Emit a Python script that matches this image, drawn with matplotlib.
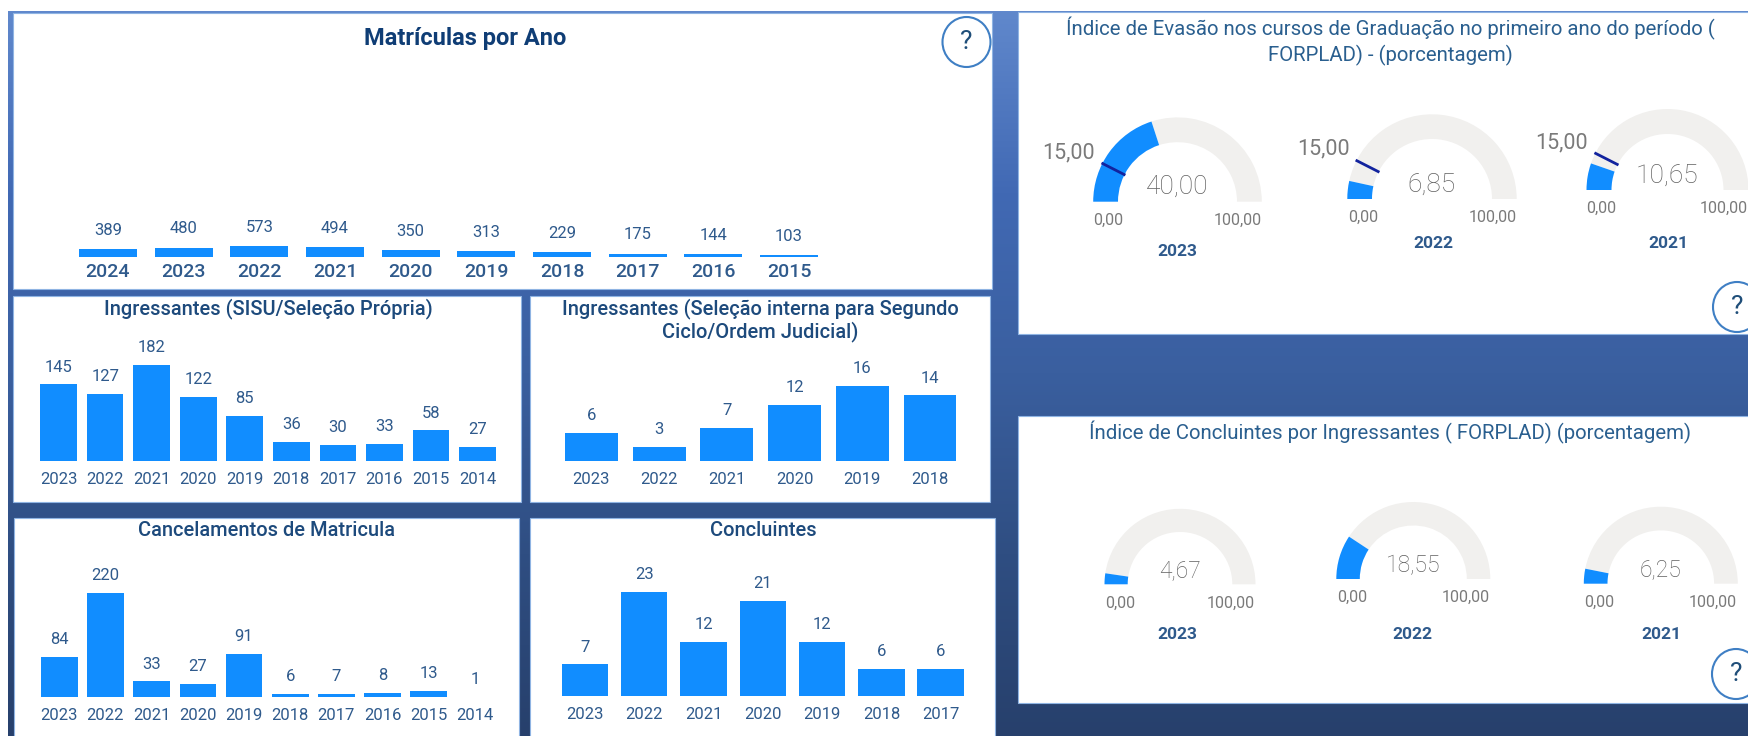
import numpy as np
import matplotlib
matplotlib.use('Agg')
import matplotlib.pyplot as plt
from matplotlib.patches import Wedge, Rectangle, Ellipse
from matplotlib.colors import LinearSegmentedColormap

W, H = 1749, 736

# data
mat_years = ['2024', '2023', '2022', '2021', '2020', '2019', '2018', '2017', '2016', '2015']
mat_values = [389, 480, 573, 494, 350, 313, 229, 175, 144, 103]
sisu_years = ['2023', '2022', '2021', '2020', '2019', '2018', '2017', '2016', '2015', '2014']
sisu_values = [145, 127, 182, 122, 85, 36, 30, 33, 58, 27]
interna_years = ['2023', '2022', '2021', '2020', '2019', '2018']
interna_values = [6, 3, 7, 12, 16, 14]
canc_years = ['2023', '2022', '2021', '2020', '2019', '2018', '2017', '2016', '2015', '2014']
canc_values = [84, 220, 33, 27, 91, 6, 7, 8, 13, 1]
conc_years = ['2023', '2022', '2021', '2020', '2019', '2018', '2017']
conc_values = [7, 23, 12, 21, 12, 6, 6]

gauge_years = ['2023', '2022', '2021']
evasao_values = [40.00, 6.85, 10.65]
evasao_target = 15.00
conc_ind_values = [4.67, 18.55, 6.25]
gauge_max = 100.00

BLUE = '#118DFF'
TRACK = '#F1F0EE'
NAVY = '#12239E'
GREY = '#7A7A7A'
TXT = '#2F5A8C'
TITLE = '#1D4A7C'

plt.rcParams['font.family'] = ['Roboto', 'DejaVu Sans']

fig = plt.figure(figsize=(W / 100, H / 100), dpi=100, facecolor='white')

# page layer, in pixels (y flipped through Y())
pg = fig.add_axes([0, 0, 1, 1])
pg.set_xlim(0, W)
pg.set_ylim(0, H)
pg.axis('off')


def Y(py):
    return H - py


def br(n):
    return ('%.2f' % n).replace('.', ',')


cmap = LinearSegmentedColormap.from_list('bg', ['#6088CC', '#4169B4', '#3A5F9F', '#2F4E82', '#27406C'])
grad = np.linspace(0, 1, 256).reshape(-1, 1)
pg.imshow(grad, extent=[8, W, Y(736), Y(11)], cmap=cmap, aspect='auto', zorder=0)
pg.set_xlim(0, W)
pg.set_ylim(0, H)


def panel(x0, y0, x1, y1):
    pg.add_patch(Rectangle((x0, Y(y1)), x1 - x0, y1 - y0, fc='white', ec='#8FB4E3', lw=0.8, zorder=1))


panel(13, 13, 992, 289)
panel(13, 296, 521, 502)
panel(530, 296, 990, 502)
panel(14, 518, 519, 740)
panel(530, 518, 995, 740)
panel(1018, 12, 1755, 334)
panel(1018, 416, 1755, 703)


def label(x, y, s, size, color=TXT, weight='normal'):
    pg.text(x, Y(y), s, fontsize=size, color=color, fontweight=weight, ha='center', va='center', zorder=6)


def bars(years, values, first, last, width, top, bottom, ymax, tick_size=12, tick_w='normal', tick_pad=8, val_pad=7):
    n = len(values)
    pitch = (last - first) / (n - 1)
    x0 = first - pitch / 2
    x1 = last + pitch / 2
    ax = fig.add_axes([x0 / W, (H - bottom) / H, (x1 - x0) / W, (bottom - top) / H])
    ax.patch.set_alpha(0)
    b = ax.bar(range(n), values, width=width / pitch, color=BLUE)
    ax.set_xlim(-0.5, n - 0.5)
    ax.set_ylim(0, ymax)
    ax.set_xticks(range(n))
    ax.set_xticklabels(years, fontsize=tick_size, color=TXT, fontweight=tick_w)
    ax.tick_params(axis='x', length=0, pad=tick_pad)
    ax.set_yticks([])
    for s in ax.spines.values():
        s.set_visible(False)
    ax.bar_label(b, padding=val_pad, fontsize=12, color=TXT)


bars(mat_years, mat_values, 108, 789, 58, 70, 257, 9490, tick_size=14, tick_w='medium', tick_pad=4, val_pad=8)
bars(sisu_years, sisu_values, 58.6, 477.5, 36.7, 330, 461, 248)
bars(interna_years, interna_values, 591.5, 930, 52.8, 345, 461, 24.7)
bars(canc_years, canc_values, 59.3, 475, 36.7, 550, 697, 310)
bars(conc_years, conc_values, 585, 940.7, 46.4, 550, 696.3, 32.2)

label(465, 38, 'Matrículas por Ano', 17, '#0F3D75', 'bold')
label(268, 309, 'Ingressantes (SISU/Seleção Própria)', 14.4, TITLE, 'medium')
label(760, 309, 'Ingressantes (Seleção interna para Segundo', 14.4, TITLE, 'medium')
label(760, 332, 'Ciclo/Ordem Judicial)', 14.4, TITLE, 'medium')
label(267, 531, 'Cancelamentos de Matricula', 14.4, TITLE, 'medium')
label(763.5, 531, 'Concluintes', 14.4, TITLE, 'medium')
label(1390, 28, 'Índice de Evasão nos cursos de Graduação no primeiro ano do período (', 14.7, '#2A5F8F')
label(1390, 55, 'FORPLAD) - (porcentagem)', 14.7, '#2A5F8F')
label(1390, 432, 'Índice de Concluintes por Ingressantes ( FORPLAD) (porcentagem)', 14.7, '#2A5F8F')


def gauge(cx, base, r, rin, value, year, val_y, min_x, max_x, lab_y, year_x, year_y, val_size=19, target=None, target_x=None, target_y=None):
    w = r - rin
    ang = 180 * (1 - value / gauge_max)
    pg.add_patch(Wedge((cx, Y(base)), r, 0, ang, width=w, fc=TRACK, ec='none', zorder=2))
    pg.add_patch(Wedge((cx, Y(base)), r, ang, 180, width=w, fc=BLUE, ec='none', zorder=3))
    if target is not None:
        a = np.pi * (1 - target / gauge_max)
        pg.plot([cx + (rin - 1) * np.cos(a), cx + (r + 1) * np.cos(a)],
                [Y(base) + (rin - 1) * np.sin(a), Y(base) + (r + 1) * np.sin(a)], color=NAVY, lw=2, zorder=4, solid_capstyle='butt')
        label(target_x, target_y, br(target), 15.5, GREY)
    label(cx, val_y, br(value), val_size, '#606060', 'light')
    label(min_x, lab_y, br(0), 11.5, GREY)
    label(max_x, lab_y, br(gauge_max), 11.5, GREY)
    label(year_x, year_y, year, 12.5, TXT, 'bold')


gauge(1177.5, 201.7, 84.3, 59.5, evasao_values[0], gauge_years[0], 186.7, 1108.6, 1238, 220, 1177, 251.7, target=evasao_target, target_x=1069, target_y=152.7)
gauge(1432, 199, 84.7, 60, evasao_values[1], gauge_years[1], 184.3, 1362.8, 1492.6, 217, 1433, 243.7, target=evasao_target, target_x=1324, target_y=149)
gauge(1667.5, 190, 81, 56, evasao_values[2], gauge_years[2], 175.7, 1601.5, 1724, 208, 1668, 243.7, target=evasao_target, target_x=1562, target_y=142.7)

gauge(1180, 584.3, 75.5, 52.3, conc_ind_values[0], gauge_years[0], 570.7, 1120, 1231, 603, 1177.7, 634.7, val_size=16.5)
gauge(1413.3, 579, 77, 53.5, conc_ind_values[1], gauge_years[1], 565.7, 1352, 1465.8, 597.7, 1412.8, 634.7, val_size=16.5)
gauge(1660.8, 583.7, 77, 53.3, conc_ind_values[2], gauge_years[2], 570, 1599.6, 1712.9, 602, 1661.7, 634.7, val_size=16.5)

for cx, cy in [(966.5, 42), (1737, 307), (1736, 674)]:
    pg.add_patch(Ellipse((cx, Y(cy)), 48, 50, fc='white', ec='#3F7FC4', lw=1.5, zorder=5))
    label(cx, cy, '?', 19, '#1F4E79')

fig.savefig('out.png', dpi=100)
